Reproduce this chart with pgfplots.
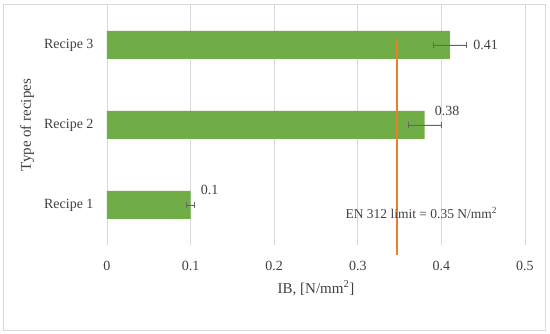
\documentclass[border=0pt]{standalone}
\usepackage{pgfplots}
\pgfplotsset{compat=1.18}
\usepackage{fontspec}
\setmainfont{Liberation Serif}
\definecolor{bargreen}{HTML}{70AD47}
\definecolor{limitorange}{HTML}{ED7D31}
\definecolor{gridgray}{HTML}{D9D9D9}
\definecolor{txtgray}{HTML}{404040}
\begin{document}
\begin{tikzpicture}[x=1pt,y=1pt]
\begin{axis}[
  at={(0,0)}, anchor=south west,
  scale only axis,
  width=418pt, height=240pt,
  xmin=0, xmax=0.5,
  ymin=-0.5, ymax=2.5,
  xtick={0,0.1,0.2,0.3,0.4,0.5},
  xticklabels={0,0.1,0.2,0.3,0.4,0.5},
  ytick={0,1,2},
  yticklabels={Recipe 1,Recipe 2,Recipe 3},
  axis line style={draw=none},
  major tick length=0pt,
  xmajorgrids,
  grid style={gridgray, line width=0.8pt},
  tick label style={font=\fontsize{14}{16}\selectfont, text=txtgray},
  xticklabel style={yshift=-13pt},
  yticklabel style={xshift=-10pt},
  xlabel={IB, [N/mm\textsuperscript{2}]},
  ylabel={Type of recipes},
  label style={font=\fontsize{15}{17}\selectfont, text=txtgray},
  xlabel style={yshift=-3pt},
  ylabel style={yshift=3pt},
  /pgf/number format/assume math mode=true,
  clip=false,
  xbar,
  bar width=28pt,
]
\addplot[fill=bargreen, draw=none,
  error bars/.cd, x dir=both, x explicit,
  error mark=|,
  error bar style={txtgray!80, line width=0.6pt},
  error mark options={mark size=3pt, line width=0.6pt, draw=txtgray!80, rotate=0}]
  table[x=val, y=pos, x error=err] {
  pos val err
  0 0.10 0.005
  1 0.38 0.02
  2 0.41 0.02
};
\addplot[sharp plot, limitorange, line width=1.8pt, mark=none, forget plot]
  coordinates {(0.347,-0.625) (0.347,2.0625)};
\node[anchor=west, font=\fontsize{14}{16}\selectfont, text=txtgray] at (axis cs:0.434,2) {0.41};
\node[anchor=west, font=\fontsize{14}{16}\selectfont, text=txtgray] at (axis cs:0.388,1.17) {0.38};
\node[anchor=west, font=\fontsize{14}{16}\selectfont, text=txtgray] at (axis cs:0.108,0.19) {0.1};
\node[font=\fontsize{13.5}{15}\selectfont, text=txtgray] at (axis cs:0.376,-0.10) {EN 312 limit = 0.35 N/mm\textsuperscript{2}};
\end{axis}
\draw[gridgray, line width=0.8pt] (-104,-85) rectangle (438,241);
\path[use as bounding box] (-107,-89) rectangle (443,245);
\end{tikzpicture}
\end{document}
